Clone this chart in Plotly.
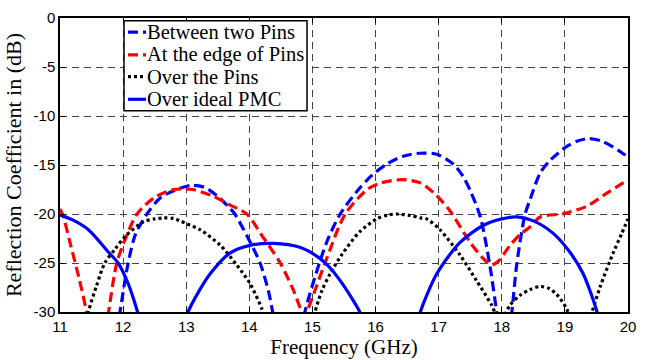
import plotly.graph_objects as go

# ---- data (x in GHz, y in dB) ----
between_x = [11.90, 11.95, 12.08, 12.20, 12.40, 12.60, 12.87, 13.09, 13.30, 13.50, 13.69, 13.77, 14.00, 14.17, 14.30, 14.37, 14.42,
             None,
             14.83, 14.88, 15.11, 15.25, 15.44, 15.73, 15.95, 16.18, 16.44, 16.70, 16.97, 17.23, 17.39, 17.50, 17.66, 17.81, 17.92, 17.97,
             None,
             18.12, 18.16, 18.24, 18.37, 18.45, 18.61, 18.77, 19.03, 19.20, 19.38, 19.60, 19.87, 20.0]
between_y = [-32.0, -30.0, -25.0, -22.0, -19.8, -18.3, -17.45, -17.07, -17.3, -18.2, -19.4, -20.0, -22.7, -25.0, -27.8, -30.0, -32.0,
             None,
             -32.0, -30.0, -25.0, -22.5, -20.0, -17.5, -16.0, -14.9, -14.1, -13.8, -13.9, -14.9, -16.2, -17.6, -20.3, -25.2, -30.0, -32.0,
             None,
             -32.0, -30.0, -25.0, -20.0, -18.5, -15.8, -14.5, -13.1, -12.55, -12.3, -12.6, -13.6, -14.2]

edge_x = [11.0, 11.05, 11.15, 11.30, 11.42, 11.46,
          None,
          11.73, 11.77, 11.90, 12.05, 12.22, 12.50, 12.80, 12.95, 13.10, 13.40, 13.69, 13.96, 14.20, 14.49, 14.70, 14.83, 14.87, 14.91, 15.00, 15.20, 15.52, 15.88, 16.10, 16.42, 16.70, 16.95, 17.18, 17.50, 17.70, 17.84, 17.95, 18.13, 18.29, 18.45, 18.61, 18.98, 19.35, 19.66, 20.0]
edge_y = [-19.5, -20.2, -22.7, -26.5, -30.0, -32.0,
          None,
          -32.0, -30.0, -25.0, -22.3, -20.0, -18.3, -17.5, -17.45, -17.5, -18.1, -19.06, -20.0, -22.2, -25.0, -27.8, -30.0, -30.5, -30.0, -28.5, -25.0, -20.0, -17.45, -16.8, -16.5, -16.8, -18.0, -19.7, -22.9, -24.5, -25.2, -24.8, -23.2, -22.1, -21.3, -20.3, -19.96, -19.2, -17.9, -16.5]

over_x = [11.40, 11.45, 11.58, 11.71, 11.87, 12.03, 12.32, 12.50, 12.64, 12.80, 12.90, 13.01, 13.22, 13.54, 13.80, 14.01, 14.20, 14.26,
          None,
          15.00, 15.04, 15.15, 15.28, 15.46, 15.75, 16.02, 16.20, 16.34, 16.55, 16.71, 16.81, 17.02, 17.34, 17.60, 17.84, 17.93, 18.02, 18.13, 18.29, 18.45, 18.61, 18.75, 18.87, 19.03, 19.10,
          None,
          19.38, 19.43, 19.56, 19.77, 19.90, 20.0]
over_y = [-32.0, -30.0, -27.3, -25.0, -23.6, -22.3, -20.8, -20.5, -20.4, -20.45, -20.7, -21.0, -21.6, -23.2, -25.2, -27.1, -29.7, -31.0,
          None,
          -31.0, -30.0, -27.8, -26.1, -24.2, -21.8, -20.5, -20.1, -20.0, -20.15, -20.4, -20.5, -21.6, -24.2, -26.8, -29.3, -30.5, -30.5, -29.3, -28.3, -27.7, -27.4, -27.6, -28.2, -29.7, -31.0,
          None,
          -31.0, -30.0, -27.4, -23.9, -22.0, -20.5]

pmc_x = [11.0, 11.20, 11.45, 11.77, 11.92, 12.08, 12.22, 12.27,
         None,
         12.99, 13.03, 13.20, 13.38, 13.69, 14.01, 14.38, 14.80, 15.09, 15.25, 15.44, 15.75, 15.79,
         None,
         16.68, 16.71, 16.97, 17.34, 17.71, 18.00, 18.24, 18.50, 18.82, 19.08, 19.29, 19.51, 19.54]
pmc_y = [-20.1, -20.6, -21.6, -23.9, -25.0, -27.1, -29.8, -31.0,
         None,
         -31.0, -30.0, -27.9, -26.1, -24.0, -23.2, -23.0, -23.4, -24.4, -25.3, -26.8, -30.0, -31.0,
         None,
         -31.0, -30.0, -26.1, -22.9, -21.15, -20.5, -20.3, -20.7, -22.0, -23.9, -26.1, -30.0, -31.0]

names = ["Between two Pins", "At the edge of Pins", "Over the Pins", "Over ideal PMC"]
x_ticks = [11, 12, 13, 14, 15, 16, 17, 18, 19, 20]
y_ticks = [0, -5, -10, -15, -20, -25, -30]

styles = [
    dict(color="#0000ff", width=3.2, dash="10px,5px"),
    dict(color="#ff0000", width=3.2, dash="10px,5px"),
    dict(color="#000000", width=3.2, dash="3px,3px"),
    dict(color="#0000ff", width=3.2, dash="solid"),
]
series = [(between_x, between_y), (edge_x, edge_y), (over_x, over_y), (pmc_x, pmc_y)]

fig = go.Figure()
for (xs, ys), nm, st in zip(series, names, styles):
    fig.add_trace(go.Scatter(x=xs, y=ys, mode="lines", name=nm,
                             line=dict(shape="spline", smoothing=0.8, **st)))

serif = "Liberation Serif, Times New Roman, serif"
axis_common = dict(showline=True, linecolor="black", linewidth=1.5, mirror="allticks",
                   ticks="inside", ticklen=5, tickcolor="black",
                   showgrid=True, gridcolor="#444444", griddash="7px,5px", gridwidth=1,
                   zeroline=False,
                   tickfont=dict(family="Liberation Sans, Arial, sans-serif", size=15, color="black"))

fig.update_xaxes(range=[11, 20], tickvals=x_ticks, ticktext=[str(v) for v in x_ticks],
                 title=dict(text="Frequency (GHz)", standoff=2,
                            font=dict(family=serif, size=21, color="black")),
                 **axis_common)
fig.update_yaxes(range=[-30, 0], tickvals=y_ticks, ticktext=[str(v) for v in y_ticks],
                 title=dict(text="Reflection Coefficient in (dB)", standoff=6,
                            font=dict(family=serif, size=22, color="black")),
                 **axis_common)

# ---- legend box drawn in the MATLAB style (short line samples) ----
leg_x0, leg_x1 = 0.1127, 0.4349
leg_y0, leg_y1 = 0.6849, 0.9904
row_y = [0.9518, 0.8746, 0.8006, 0.7235]
samp_x0, samp_x1, text_x = 0.1197, 0.1514, 0.1500

shapes = [dict(type="rect", xref="paper", yref="paper", x0=leg_x0, x1=leg_x1, y0=leg_y0, y1=leg_y1,
               fillcolor="white", line=dict(color="black", width=1.5), layer="above")]
annotations = []
for nm, st, ry in zip(names, styles, row_y):
    shapes.append(dict(type="line", xref="paper", yref="paper", x0=samp_x0, x1=samp_x1, y0=ry, y1=ry,
                       line=dict(color=st["color"], width=st["width"], dash=st["dash"]), layer="above"))
    annotations.append(dict(xref="paper", yref="paper", x=text_x, y=ry, text=nm, showarrow=False,
                            xanchor="left", yanchor="middle",
                            font=dict(family=serif, size=20.5, color="black")))

fig.update_layout(
    width=645, height=360,
    margin=dict(l=60, r=17, t=9, b=40),
    paper_bgcolor="white", plot_bgcolor="white",
    showlegend=False,
    shapes=shapes, annotations=annotations,
)

fig.write_html("out.html")
